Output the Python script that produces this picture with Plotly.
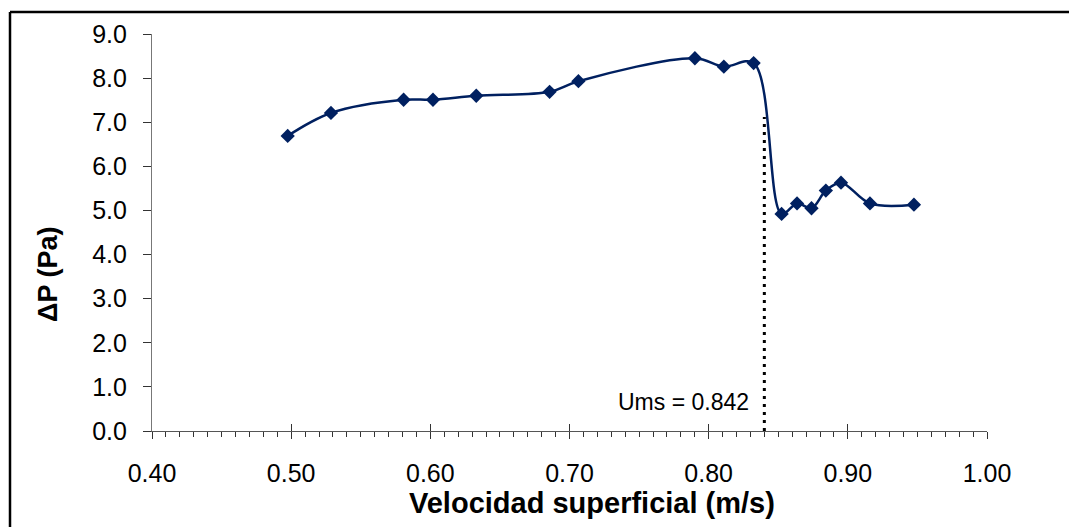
import plotly.graph_objects as go

# Data
velocidad = [0.4975, 0.5286, 0.5808, 0.6019, 0.6330, 0.6857, 0.7064, 0.7901, 0.8109, 0.8323,
             0.8524, 0.8635, 0.8739, 0.8842, 0.8951, 0.9159, 0.9475]
delta_p = [6.69, 7.21, 7.51, 7.51, 7.60, 7.69, 7.93, 8.45, 8.26, 8.34,
           4.92, 5.16, 5.05, 5.45, 5.63, 5.16, 5.13]

ums_x = 0.84
ums_top = 7.12
ums_label = "Ums = 0.842"

x_tickvals = [0.40, 0.50, 0.60, 0.70, 0.80, 0.90, 1.00]
y_tickvals = [0, 1, 2, 3, 4, 5, 6, 7, 8, 9]

x_title = "<b>Velocidad superficial (m/s)</b>"
y_title = "<b>ΔP (Pa)</b>"

FONT = "Arial, 'Liberation Sans', sans-serif"
NAVY = "#002060"
W, H = 1069, 527
L, R, T, B = 152, 82, 34, 96
pw = W - L - R
ph = H - T - B


def px_x(p):
    return (p - L) / pw


def px_y(p):
    return (H - B - p) / ph


fig = go.Figure()

# dotted vertical marker line
fig.add_trace(go.Scatter(
    x=[ums_x, ums_x], y=[0, ums_top], mode="lines",
    line=dict(color="black", width=3, dash="3px,5px"),
    hoverinfo="skip", showlegend=False))

fig.add_trace(go.Scatter(
    x=velocidad, y=delta_p, mode="lines+markers",
    line=dict(color=NAVY, width=2.5, shape="spline", smoothing=1.0),
    marker=dict(symbol="diamond", size=11, color=NAVY),
    showlegend=False))

# invisible trace on overlay axis for inward major ticks
fig.add_trace(go.Scatter(x=[0.4], y=[0], xaxis="x2", mode="markers",
                         marker=dict(opacity=0), hoverinfo="skip", showlegend=False))

fig.add_annotation(x=ums_x, y=0.66, xref="x", yref="y", text=ums_label,
                   showarrow=False, xanchor="right", yanchor="middle", xshift=-13,
                   font=dict(family=FONT, size=23, color="black"))

# axis titles
fig.add_annotation(x=px_x(592), y=px_y(503), xref="paper", yref="paper", text=x_title,
                   showarrow=False, xanchor="center", yanchor="middle",
                   font=dict(family=FONT, size=29, color="black"))
fig.add_annotation(x=px_x(48), y=px_y(275), xref="paper", yref="paper", text=y_title,
                   showarrow=False, xanchor="center", yanchor="middle", textangle=-90,
                   font=dict(family=FONT, size=27, color="black"))

# outer chart frame: only top and left edges fall inside the picture
fx0, fy_top = px_x(10), px_y(12)
fy_bot, fx1 = px_y(H + 20), px_x(W + 20)
fig.add_shape(type="line", xref="paper", yref="paper", x0=fx0, x1=fx0, y0=fy_bot, y1=fy_top,
              line=dict(color="black", width=2.5), layer="below")
fig.add_shape(type="line", xref="paper", yref="paper", x0=fx0, x1=fx1, y0=fy_top, y1=fy_top,
              line=dict(color="black", width=2.5), layer="below")

fig.update_layout(
    width=W, height=H,
    margin=dict(l=L, r=R, t=T, b=B, pad=0),
    paper_bgcolor="white", plot_bgcolor="white",
    font=dict(family=FONT, size=25, color="black"),
    xaxis=dict(range=[0.4, 1.0], tickvals=x_tickvals, tickformat=".2f",
               showgrid=False, zeroline=False, showline=True, linecolor="#555555", linewidth=1.2,
               ticks="outside", ticklen=7, tickcolor="#333333", tickwidth=1,
               minor=dict(dtick=0.01, ticks="outside", ticklen=5, tickcolor="#333333", tickwidth=1, showgrid=False),
               ticklabelstandoff=13),
    xaxis2=dict(range=[0.4, 1.0], overlaying="x", anchor="y", side="bottom",
                tickvals=x_tickvals, showticklabels=False, showgrid=False, zeroline=False,
                showline=False, ticks="inside", ticklen=7, tickcolor="#333333", tickwidth=1),
    yaxis=dict(range=[0, 9], tickvals=y_tickvals, tickformat=".1f",
               showgrid=False, zeroline=False, showline=True, linecolor="#777777", linewidth=1.2,
               ticks="outside", ticklen=8, tickcolor="#333333", tickwidth=1,
               ticklabelstandoff=11),
)

fig.write_html("out.html")
